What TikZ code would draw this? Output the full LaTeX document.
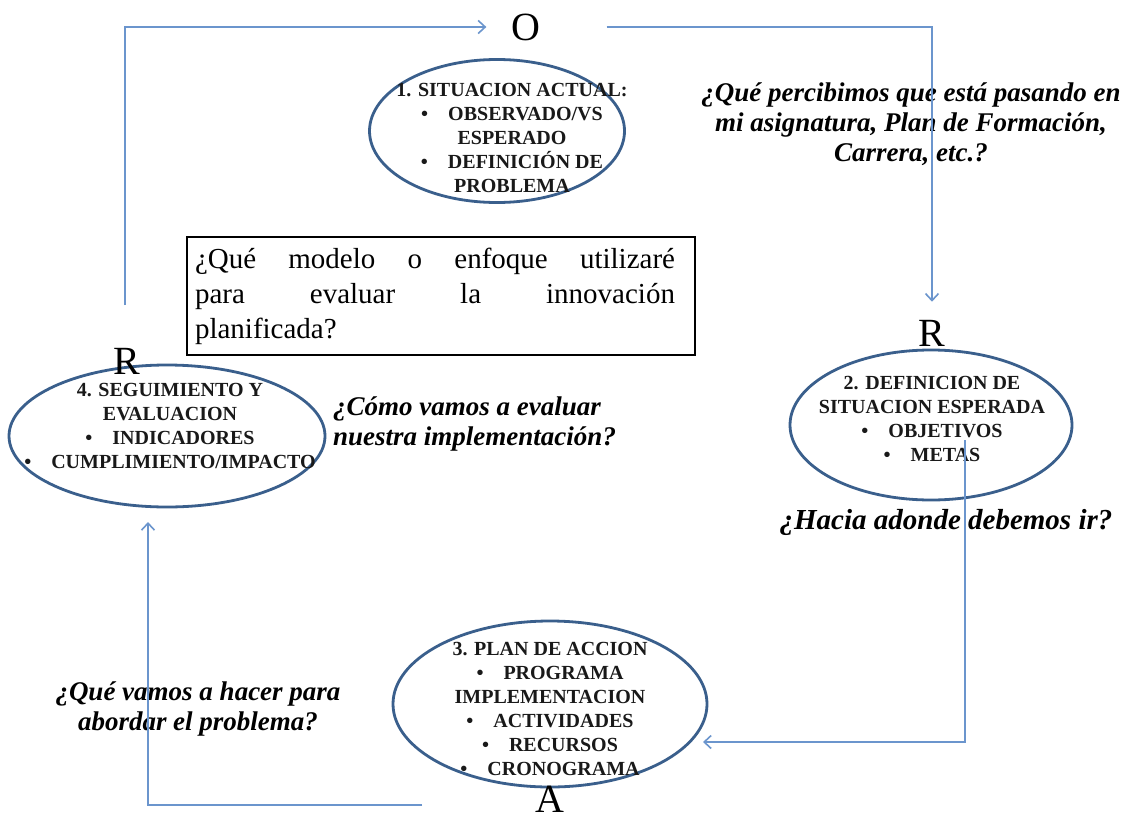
\documentclass[tikz,border=0pt]{standalone}
\usepackage{fontspec}
\setmainfont{Liberation Serif}
\usetikzlibrary{shapes.geometric,arrows.meta}
\definecolor{ellblue}{HTML}{3A5F8C}
\definecolor{linkblue}{HTML}{6B95CD}
\begin{document}
\begin{tikzpicture}[x=1pt,y=-1pt,
  ell/.style={draw=ellblue, line width=2.8pt, ellipse, inner sep=0pt},
  etext/.style={font=\fontsize{20}{24}\selectfont\bfseries, align=center, text=black!90, inner sep=0pt},
  conn/.style={draw=linkblue, line width=1.6pt, -{Straight Barb[length=7pt,width=13pt]}},
  letter/.style={font=\fontsize{40}{40}\selectfont, inner sep=0pt},
  quest/.style={font=\fontsize{27}{30}\selectfont\bfseries\itshape, align=center, inner sep=0pt},
]
\useasboundingbox (0,0) rectangle (1132,816);
\fill[white] (0,0) rectangle (1132,816);

% ellipses
\node[ell, minimum width=255pt, minimum height=143pt] (e1) at (497,131) {};
\node[ell, minimum width=282pt, minimum height=150pt] (e2) at (931,425) {};
\node[ell, minimum width=314pt, minimum height=166pt] (e3) at (550,704) {};
\node[ell, minimum width=316pt, minimum height=142pt] (e4) at (167,436) {};

% ellipse texts
\node[etext] (t1) at (512,138) {1. SITUACION ACTUAL:\\ \textbullet\quad OBSERVADO/VS\\ ESPERADO\\ \textbullet\quad DEFINICIÓN DE\\ PROBLEMA};
\node[etext] (t2) at (932,419) {2. DEFINICION DE\\ SITUACION ESPERADA\\ \textbullet\quad OBJETIVOS\\ \textbullet\quad METAS};
\node[etext] (t3) at (550,709) {3. PLAN DE ACCION\\ \textbullet\quad PROGRAMA\\ IMPLEMENTACION\\ \textbullet\quad ACTIVIDADES\\ \textbullet\quad RECURSOS\\ \textbullet\quad CRONOGRAMA};
\node[etext] (t4) at (170,426) {4. SEGUIMIENTO Y\\ EVALUACION\\ \textbullet\quad INDICADORES\\ \textbullet\quad CUMPLIMIENTO/IMPACTO};

% letters
\node[letter] (O) at (526,27) {O};
\node[letter] (R4) at (127,361) {R};
\node[letter] (R2) at (932,333) {R};
\node[letter] (A) at (550,799) {A};

% text box
\node[draw=black, line width=1.3pt, minimum width=508pt, minimum height=118pt] (box) at (441,296) {};
\node[text width=480pt, inner sep=0pt, align=left, font=\fontsize{29}{35}\selectfont] (boxtext) at (435,296)
 {\makebox[480pt][l]{¿Qué\hfill modelo\hfill o\hfill enfoque\hfill utilizaré}\\ \makebox[480pt][l]{para\hfill evaluar\hfill la\hfill innovación}\\ planificada?};

% questions
\node[quest] (q1) at (911,124) {¿Qué percibimos que está pasando en\\ mi asignatura, Plan de Formación,\\ Carrera, etc.?};
\node[quest, align=left, anchor=west] (q2) at (333,424) {¿Cómo vamos a evaluar\\ nuestra implementación?};
\node[quest, font=\fontsize{29}{30}\selectfont\bfseries\itshape] (q3) at (946,522) {¿Hacia adonde debemos ir?};
\node[quest] (q4) at (198,709) {¿Qué vamos a hacer para\\ abordar el problema?};

% connectors
\coordinate (c1) at (125,305);
\coordinate (c3) at (965,440);
\coordinate (c4) at (703,742);
\coordinate (c5) at (422,805);
\coordinate (c6) at (148,522);
\draw[conn] (c1) |- ([xshift=-25pt]O.west);
\draw[conn] ([xshift=66pt]O.east) -| ([yshift=18pt]R2.north);
\draw[conn] (c3) |- (c4);
\draw[conn] (c5) -| (c6);
\end{tikzpicture}
\end{document}
